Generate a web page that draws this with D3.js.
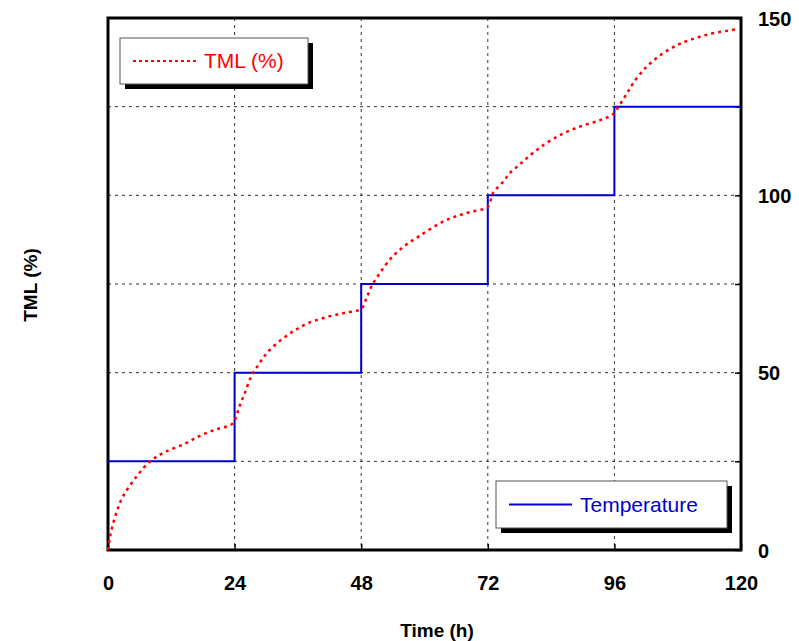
<!DOCTYPE html>
<html>
<head>
<meta charset="utf-8">
<script src="https://cdn.jsdelivr.net/npm/d3@7"></script>
<style>
    body { margin: 0; background: #fff; }
    text { font-family: "Liberation Sans", Arial, sans-serif; }
</style>
</head>
<body>
<div id="the_chart"></div>
<script>
// x ticks (hours) and right axis ticks
var timeTicks = [0, 24, 48, 72, 96, 120];
var rightTicks = [0, 50, 100, 150];
var gridY = [25, 50, 75, 100, 125];

// temperature step series
var tempTime = [0, 24, 24, 48, 48, 72, 72, 96, 96, 120];
var tempValue = [25, 25, 50, 50, 75, 75, 100, 100, 125, 125];

// TML curve
var tmlTime = [0, 0.3, 0.8, 1.7, 2.8, 5.3, 8, 10.8, 14.6, 17.4, 20.5, 23.5,
    24.4, 24.8, 25.4, 26, 27.1, 28, 29, 30.1, 32.6, 35.5, 38, 41.5, 45, 48,
    49, 50, 51.5, 53.5, 56, 59, 63.4, 65.8, 68.6, 72,
    73, 74.9, 76.2, 77.9, 79.4, 81.9, 85.7, 89.5, 93.3, 95.7,
    97, 98.4, 99.5, 101.8, 104.6, 107.7, 110.3, 114.1, 119.6];
var tmlValue = [0, 3, 6.5, 11, 15, 20.5, 25, 27.6, 30, 32.2, 34, 35.5,
    38, 40, 42.3, 44.5, 48.8, 51, 53.3, 55.5, 59, 62, 64, 65.7, 66.9, 68,
    71, 74.5, 78, 82, 85.5, 88.5, 92.5, 94, 95.3, 96.8,
    100.7, 103.8, 106.3, 108.5, 110.5, 113.5, 117, 119.4, 121.2, 122.9,
    125.5, 128.8, 131.5, 135.8, 139.4, 142.2, 143.8, 145.5, 146.9];

var w = 799, h = 641;
var padL = 108, padR = 741, padT = 18, padB = 550;

var svg = d3.select("#the_chart").append("svg")
    .attr("width", w)
    .attr("height", h);

var xscale = d3.scaleLinear().domain([0, 120]).range([padL, padR]);
var yscale = d3.scaleLinear().domain([0, 150]).range([padB, padT]);

// grid lines
svg.append("g").selectAll("line")
    .data(timeTicks.slice(1, -1))
    .enter().append("line")
    .attr("x1", d => xscale(d)).attr("x2", d => xscale(d))
    .attr("y1", padT).attr("y2", padB)
    .attr("stroke", "#333").attr("stroke-width", 1)
    .attr("stroke-dasharray", "3,4");
svg.append("g").selectAll("line")
    .data(gridY)
    .enter().append("line")
    .attr("x1", padL).attr("x2", padR)
    .attr("y1", d => yscale(d)).attr("y2", d => yscale(d))
    .attr("stroke", "#333").attr("stroke-width", 1)
    .attr("stroke-dasharray", "3,4");

// axes (inward ticks)
var xaxis = d3.axisBottom(xscale).tickValues(timeTicks).tickSizeInner(-6).tickSizeOuter(0).tickFormat(d3.format("d"));
var gx = svg.append("g").attr("transform", "translate(0," + padB + ")").call(xaxis);
gx.select(".domain").remove();
gx.selectAll("line").attr("stroke", "#000").attr("stroke-width", 1.5);
gx.selectAll("text").attr("dy", null).attr("y", 40)
    .style("font-size", "20px").style("font-weight", "bold").attr("fill", "#000")
    .style("font-family", "'Liberation Sans', Arial, sans-serif");

var yaxis = d3.axisRight(yscale).tickValues([0].concat(gridY, [150])).tickSizeInner(-6).tickSizeOuter(0)
    .tickFormat(d => rightTicks.indexOf(d) >= 0 ? d : "");
var gy = svg.append("g").attr("transform", "translate(" + padR + ",0)").call(yaxis);
gy.select(".domain").remove();
gy.selectAll("line").attr("stroke", "#000").attr("stroke-width", 1.5);
gy.selectAll("text").attr("x", 17).attr("dy", "0.35em")
    .style("font-size", "20px").style("font-weight", "bold").attr("fill", "#000")
    .style("font-family", "'Liberation Sans', Arial, sans-serif");

// frame
svg.append("rect")
    .attr("x", padL).attr("y", padT)
    .attr("width", padR - padL).attr("height", padB - padT)
    .attr("fill", "none").attr("stroke", "#000").attr("stroke-width", 3);

// series
var line = d3.line().x(d => xscale(d[0])).y(d => yscale(d[1]));
svg.append("path")
    .attr("d", line(d3.zip(tempTime, tempValue)))
    .attr("fill", "none").attr("stroke", "#0000cc").attr("stroke-width", 2);
svg.append("path")
    .attr("d", d3.line().curve(d3.curveCatmullRom.alpha(0.5)).x(d => xscale(d[0])).y(d => yscale(d[1]))(d3.zip(tmlTime, tmlValue)))
    .attr("fill", "none").attr("stroke", "#ff0000").attr("stroke-width", 2.5)
    .attr("stroke-dasharray", "3,4");

// legends with drop shadow
function legend(x, y, bw, bh, label, color, dash) {
    var g = svg.append("g");
    g.append("rect").attr("x", x + 5).attr("y", y + 5).attr("width", bw).attr("height", bh).attr("fill", "#000");
    g.append("rect").attr("x", x).attr("y", y).attr("width", bw).attr("height", bh)
        .attr("fill", "#fff").attr("stroke", "#555").attr("stroke-width", 1);
    g.append("line").attr("x1", x + 13).attr("x2", x + 76).attr("y1", y + bh / 2).attr("y2", y + bh / 2)
        .attr("stroke", color).attr("stroke-width", 2).attr("stroke-dasharray", dash);
    g.append("text").attr("x", x + 84).attr("y", y + bh / 2).attr("dy", "0.35em")
        .attr("fill", color).style("font-size", "21px").text(label);
}
legend(120, 38, 188, 46, "TML (%)", "#ff0000", "3,3");
legend(496, 481, 231, 47, "Temperature", "#0000cc", null);

// axis titles
svg.append("text").attr("x", 437).attr("y", 637).attr("text-anchor", "middle")
    .style("font-size", "19px").style("font-weight", "bold").text("Time (h)");
svg.append("text").attr("transform", "translate(37,285) rotate(-90)").attr("text-anchor", "middle")
    .style("font-size", "19px").style("font-weight", "bold").text("TML (%)");
</script>
</body>
</html>
